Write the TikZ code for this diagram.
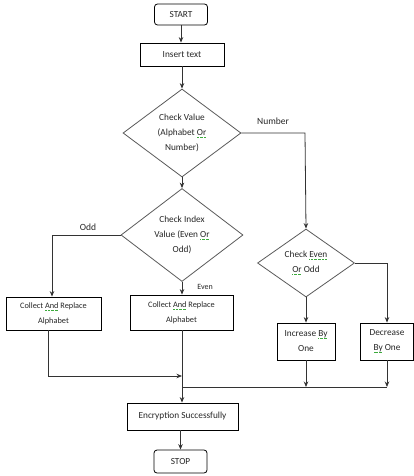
\documentclass[tikz,border=0pt]{standalone}
\usepackage{fontspec}
\setmainfont{Carlito}
\usetikzlibrary{shapes.geometric,arrows.meta}
\definecolor{spell}{RGB}{60,170,60}
\newsavebox\gwbox
\newcommand\gw[1]{\sbox\gwbox{#1}\rlap{\textcolor{spell}{\raisebox{-2pt}{\hbox to\wd\gwbox{\xleaders\hbox{\rule{0.7pt}{0.7pt}\hspace{0.6pt}}\hfill}}}}#1}
\begin{document}
\begin{tikzpicture}[x=1pt,y=-1pt,
  txt/.style={font=\fontsize{9.3}{15}\selectfont, align=center, text=black!85},
  small/.style={font=\fontsize{8.3}{15}\selectfont},
  box/.style={draw=black, line width=0.8pt, txt, inner sep=0pt},
  term/.style={box, rounded corners=3pt},
  dia/.style={draw=black!65, line width=0.8pt, diamond, txt, inner sep=0pt},
  conn/.style={draw=black!80, line width=0.8pt},
  arr/.style={conn, -{Stealth[length=5.5pt,width=4.5pt]}},
  lbl/.style={font=\fontsize{9.5}{11}\selectfont, text=black!85}]
\useasboundingbox (0,0) rectangle (414,476);
% nodes
\node[term, minimum width=53pt, minimum height=21pt] (start) at (181,14.5) {START};
\node[box, minimum width=84pt, minimum height=23pt] (ins) at (182,54.5) {Insert text};
\node[dia, minimum width=118pt, minimum height=88pt] (d1) at (182,133) {Check Value\\(Alphabet \gw{Or}\\Number)};
\node[dia, minimum width=122pt, minimum height=88pt] (d2) at (182,235) {Check Index\\Value (Even \gw{Or}\\Odd)};
\node[dia, minimum width=97pt, minimum height=68pt] (d3) at (306,263) {Check \gw{Even}\\\gw{Or} Odd};
\node[box, small, minimum width=95pt, minimum height=33pt] (cl) at (53.5,313.5) {Collect \gw{And} Replace\\Alphabet};
\node[box, small, minimum width=103pt, minimum height=35pt] (cm) at (181.5,312.5) {Collect \gw{And} Replace\\Alphabet};
\node[box, minimum width=58pt, minimum height=37pt] (inc) at (306,341.5) {Increase \gw{By}\\One};
\node[box, minimum width=53pt, minimum height=37pt] (dec) at (387,341.5) {Decrease\\\gw{By} One};
\node[box, minimum width=111pt, minimum height=27pt] (enc) at (182.5,416.5) {Encryption Successfully};
\node[term, minimum width=53pt, minimum height=23pt] (stop) at (180.5,461.5) {STOP};
% coordinates
\coordinate (nb) at (305,133);
\coordinate (ob) at (52,235);
\coordinate (cld) at (48,376);
\coordinate (j1) at (182,376);
\coordinate (j2) at (182,387);
\coordinate (ij) at (306,387);
\coordinate (dj) at (387,387);
% connectors
\draw[arr] (start) -- (start|-ins.north);
\draw[arr] (ins) -- (d1.north);
\draw[arr] (d1.south) -- (d2.north);
\draw[arr] (d1.east) -- (nb) -- (d3.north);
\draw[arr] (d2.west) -- (ob) -- (ob|-cl.north);
\draw[arr] (d2.south) -- (d2.south|-cm.north);
\draw[arr] (d3.south) -- (inc.north);
\draw[arr] (d3.east) -| (dec.north);
\draw[conn] (cld|-cl.south) -- (cld);
\draw[arr] (cld) -- (j1);
\draw[arr] (cm.south-|j1) -- (j1|-enc.north);
\draw[conn] (j2) -- (dj);
\draw[arr] (inc.south) -- (ij);
\draw[arr] (dec.south) -- (dj);
\draw[arr] (enc.south-|stop) -- (stop.north);
% labels
\node[lbl] (lnum) at (273,121) {Number};
\node[lbl] (lodd) at (88,227) {Odd};
\node[lbl, font=\fontsize{8}{9}\selectfont] (leven) at (205,286.5) {Even};
\end{tikzpicture}
\end{document}
